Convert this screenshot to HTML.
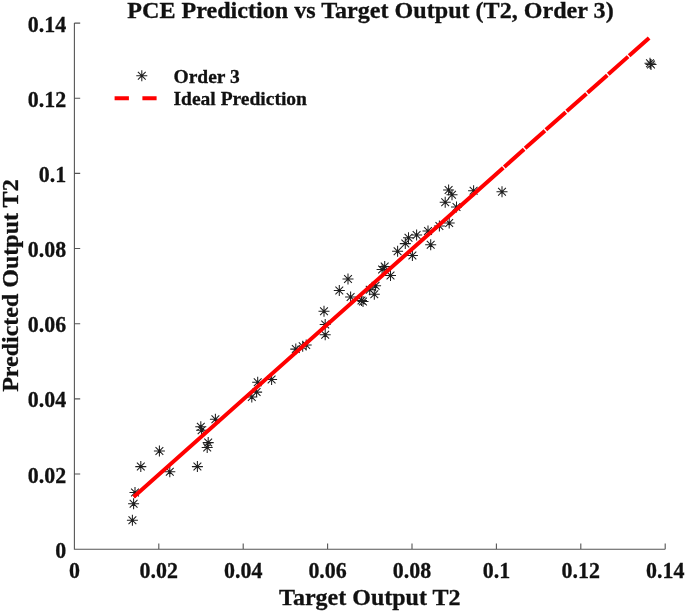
<!DOCTYPE html>
<html><head><meta charset="utf-8"><style>
html,body{margin:0;padding:0;background:#fff;}
svg{display:block;filter:blur(0.3px);}
text{font-family:"Liberation Serif",serif;font-weight:bold;fill:#111;stroke:#111;stroke-width:0.3px;}
</style></head><body>
<svg width="685" height="612" viewBox="0 0 685 612">
<rect width="685" height="612" fill="#fff"/>
<path d="M74.4 23.1V549.2H665.2M74.40 549.2V543.4000000000001M74.4 549.20H80.2M158.80 549.2V543.4000000000001M74.4 474.04H80.2M243.20 549.2V543.4000000000001M74.4 398.89H80.2M327.60 549.2V543.4000000000001M74.4 323.73H80.2M412.00 549.2V543.4000000000001M74.4 248.57H80.2M496.40 549.2V543.4000000000001M74.4 173.41H80.2M580.80 549.2V543.4000000000001M74.4 98.26H80.2M665.20 549.2V543.4000000000001M74.4 23.10H80.2" fill="none" stroke="#555" stroke-width="1.1"/>
<g font-size="23"><text transform="translate(74.40 577.6) scale(0.955 1)" text-anchor="middle">0</text><text transform="translate(66.2 557.80) scale(0.955 1)" text-anchor="end">0</text><text transform="translate(158.80 577.6) scale(0.955 1)" text-anchor="middle">0.02</text><text transform="translate(66.2 482.64) scale(0.955 1)" text-anchor="end">0.02</text><text transform="translate(243.20 577.6) scale(0.955 1)" text-anchor="middle">0.04</text><text transform="translate(66.2 407.49) scale(0.955 1)" text-anchor="end">0.04</text><text transform="translate(327.60 577.6) scale(0.955 1)" text-anchor="middle">0.06</text><text transform="translate(66.2 332.33) scale(0.955 1)" text-anchor="end">0.06</text><text transform="translate(412.00 577.6) scale(0.955 1)" text-anchor="middle">0.08</text><text transform="translate(66.2 257.17) scale(0.955 1)" text-anchor="end">0.08</text><text transform="translate(496.40 577.6) scale(0.955 1)" text-anchor="middle">0.1</text><text transform="translate(66.2 182.01) scale(0.955 1)" text-anchor="end">0.1</text><text transform="translate(580.80 577.6) scale(0.955 1)" text-anchor="middle">0.12</text><text transform="translate(66.2 106.86) scale(0.955 1)" text-anchor="end">0.12</text><text transform="translate(665.20 577.6) scale(0.955 1)" text-anchor="middle">0.14</text><text transform="translate(66.2 31.70) scale(0.955 1)" text-anchor="end">0.14</text></g>
<path d="M126.90 520.20H137.90M132.40 514.70V525.70M128.51 516.31L136.29 524.09M128.51 524.09L136.29 516.31M128.10 503.80H139.10M133.60 498.30V509.30M129.71 499.91L137.49 507.69M129.71 507.69L137.49 499.91M129.50 492.50H140.50M135.00 487.00V498.00M131.11 488.61L138.89 496.39M131.11 496.39L138.89 488.61M135.30 466.60H146.30M140.80 461.10V472.10M136.91 462.71L144.69 470.49M136.91 470.49L144.69 462.71M153.90 451.00H164.90M159.40 445.50V456.50M155.51 447.11L163.29 454.89M155.51 454.89L163.29 447.11M164.30 471.80H175.30M169.80 466.30V477.30M165.91 467.91L173.69 475.69M165.91 475.69L173.69 467.91M191.90 466.60H202.90M197.40 461.10V472.10M193.51 462.71L201.29 470.49M193.51 470.49L201.29 462.71M201.70 447.40H212.70M207.20 441.90V452.90M203.31 443.51L211.09 451.29M203.31 451.29L211.09 443.51M202.70 442.60H213.70M208.20 437.10V448.10M204.31 438.71L212.09 446.49M204.31 446.49L212.09 438.71M195.30 426.80H206.30M200.80 421.30V432.30M196.91 422.91L204.69 430.69M196.91 430.69L204.69 422.91M196.10 430.20H207.10M201.60 424.70V435.70M197.71 426.31L205.49 434.09M197.71 434.09L205.49 426.31M209.90 419.30H220.90M215.40 413.80V424.80M211.51 415.41L219.29 423.19M211.51 423.19L219.29 415.41M246.30 397.00H257.30M251.80 391.50V402.50M247.91 393.11L255.69 400.89M247.91 400.89L255.69 393.11M251.10 392.10H262.10M256.60 386.60V397.60M252.71 388.21L260.49 395.99M252.71 395.99L260.49 388.21M252.20 382.20H263.20M257.70 376.70V387.70M253.81 378.31L261.59 386.09M253.81 386.09L261.59 378.31M266.10 379.40H277.10M271.60 373.90V384.90M267.71 375.51L275.49 383.29M267.71 383.29L275.49 375.51M290.30 349.10H301.30M295.80 343.60V354.60M291.91 345.21L299.69 352.99M291.91 352.99L299.69 345.21M297.20 346.30H308.20M302.70 340.80V351.80M298.81 342.41L306.59 350.19M298.81 350.19L306.59 342.41M300.70 344.90H311.70M306.20 339.40V350.40M302.31 341.01L310.09 348.79M302.31 348.79L310.09 341.01M318.50 311.20H329.50M324.00 305.70V316.70M320.11 307.31L327.89 315.09M320.11 315.09L327.89 307.31M319.70 324.40H330.70M325.20 318.90V329.90M321.31 320.51L329.09 328.29M321.31 328.29L329.09 320.51M319.70 334.80H330.70M325.20 329.30V340.30M321.31 330.91L329.09 338.69M321.31 338.69L329.09 330.91M333.80 290.50H344.80M339.30 285.00V296.00M335.41 286.61L343.19 294.39M335.41 294.39L343.19 286.61M342.50 279.00H353.50M348.00 273.50V284.50M344.11 275.11L351.89 282.89M344.11 282.89L351.89 275.11M345.10 297.00H356.10M350.60 291.50V302.50M346.71 293.11L354.49 300.89M346.71 300.89L354.49 293.11M356.00 300.50H367.00M361.50 295.00V306.00M357.61 296.61L365.39 304.39M357.61 304.39L365.39 296.61M357.50 301.50H368.50M363.00 296.00V307.00M359.11 297.61L366.89 305.39M359.11 305.39L366.89 297.61M364.20 289.70H375.20M369.70 284.20V295.20M365.81 285.81L373.59 293.59M365.81 293.59L373.59 285.81M368.80 294.20H379.80M374.30 288.70V299.70M370.41 290.31L378.19 298.09M370.41 298.09L378.19 290.31M370.10 285.80H381.10M375.60 280.30V291.30M371.71 281.91L379.49 289.69M371.71 289.69L379.49 281.91M376.60 269.40H387.60M382.10 263.90V274.90M378.21 265.51L385.99 273.29M378.21 273.29L385.99 265.51M379.20 266.60H390.20M384.70 261.10V272.10M380.81 262.71L388.59 270.49M380.81 270.49L388.59 262.71M385.00 275.40H396.00M390.50 269.90V280.90M386.61 271.51L394.39 279.29M386.61 279.29L394.39 271.51M392.10 251.30H403.10M397.60 245.80V256.80M393.71 247.41L401.49 255.19M393.71 255.19L401.49 247.41M399.80 243.60H410.80M405.30 238.10V249.10M401.41 239.71L409.19 247.49M401.41 247.49L409.19 239.71M403.00 237.80H414.00M408.50 232.30V243.30M404.61 233.91L412.39 241.69M404.61 241.69L412.39 233.91M406.90 255.40H417.90M412.40 249.90V260.90M408.51 251.51L416.29 259.29M408.51 259.29L416.29 251.51M411.10 234.90H422.10M416.60 229.40V240.40M412.71 231.01L420.49 238.79M412.71 238.79L420.49 231.01M422.50 231.00H433.50M428.00 225.50V236.50M424.11 227.11L431.89 234.89M424.11 234.89L431.89 227.11M425.20 244.80H436.20M430.70 239.30V250.30M426.81 240.91L434.59 248.69M426.81 248.69L434.59 240.91M433.90 225.90H444.90M439.40 220.40V231.40M435.51 222.01L443.29 229.79M435.51 229.79L443.29 222.01M443.70 223.00H454.70M449.20 217.50V228.50M445.31 219.11L453.09 226.89M445.31 226.89L453.09 219.11M439.70 202.20H450.70M445.20 196.70V207.70M441.31 198.31L449.09 206.09M441.31 206.09L449.09 198.31M443.10 189.90H454.10M448.60 184.40V195.40M444.71 186.01L452.49 193.79M444.71 193.79L452.49 186.01M446.50 194.80H457.50M452.00 189.30V200.30M448.11 190.91L455.89 198.69M448.11 198.69L455.89 190.91M451.00 207.00H462.00M456.50 201.50V212.50M452.61 203.11L460.39 210.89M452.61 210.89L460.39 203.11M468.10 190.80H479.10M473.60 185.30V196.30M469.71 186.91L477.49 194.69M469.71 194.69L477.49 186.91M496.50 191.70H507.50M502.00 186.20V197.20M498.11 187.81L505.89 195.59M498.11 195.59L505.89 187.81M644.50 63.30H655.50M650.00 57.80V68.80M646.11 59.41L653.89 67.19M646.11 67.19L653.89 59.41M645.50 64.50H656.50M651.00 59.00V70.00M647.11 60.61L654.89 68.39M647.11 68.39L654.89 60.61" fill="none" stroke="#1f1f1f" stroke-width="1.05"/>
<line x1="133.60660000000001" y1="496.97726428571434" x2="649.1218" y2="37.917435714285716" stroke="#ff0000" stroke-width="4" stroke-dasharray="495.05 1.30 26.55 1.30 26.55 1.30 26.55 1.30 26.55 1.30 26.55 1.30 26.55 1.30 31.83 0.00"/>
<text x="370.5" y="18" font-size="24.1" text-anchor="middle">PCE Prediction vs Target Output (T2, Order 3)</text>
<text x="369.8" y="605.4" font-size="24" text-anchor="middle">Target Output T2</text>
<text transform="translate(17.5 285.6) rotate(-90)" font-size="24" text-anchor="middle">Predicted Output T2</text>
<path d="M136.30 75.80H147.30M141.80 70.30V81.30M137.91 71.91L145.69 79.69M137.91 79.69L145.69 71.91" fill="none" stroke="#1f1f1f" stroke-width="1.05"/>
<path d="M114.6 98.2H128.9M142.4 98.2H156.6" stroke="#ff0000" stroke-width="4"/>
<text x="173.5" y="82.8" font-size="19.5">Order 3</text>
<text x="173.5" y="105.3" font-size="19.5">Ideal Prediction</text>
</svg>
</body></html>
